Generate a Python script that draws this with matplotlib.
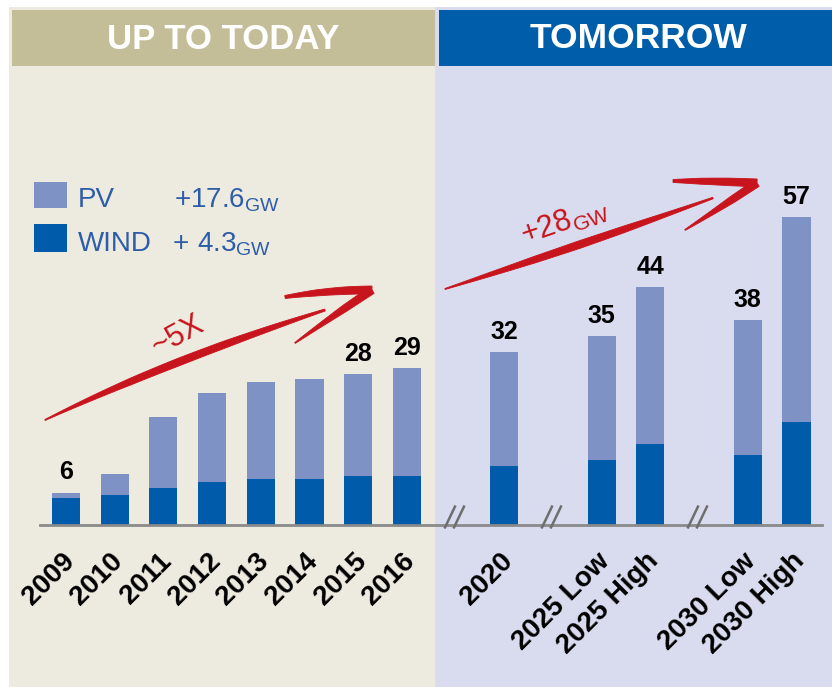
import numpy as np
import matplotlib
matplotlib.use("Agg")
import matplotlib.pyplot as plt
from matplotlib.patches import Rectangle, Polygon
from matplotlib.path import Path
from matplotlib.transforms import Affine2D

plt.rcParams['font.family'] = ['Liberation Sans', 'DejaVu Sans']
plt.rcParams['mathtext.fontset'] = 'custom'
plt.rcParams['mathtext.rm'] = 'Liberation Sans'
plt.rcParams['mathtext.it'] = 'Liberation Sans:italic'
plt.rcParams['mathtext.bf'] = 'Liberation Sans:bold'

# ---------------- data (GW installed) ----------------
history_labels = ["2009", "2010", "2011", "2012", "2013", "2014", "2015", "2016"]
history_total = [6, 9.5, 20, 24.5, 26.5, 27, 28, 29]
history_wind = [5, 5.5, 6.8, 7.9, 8.6, 8.6, 9, 9]
history_tags = ["6", "", "", "", "", "", "28", "29"]

outlook_labels = ["2020", "2025 Low", "2025 High", "2030 Low", "2030 High"]
outlook_total = [32, 35, 44, 38, 57]
outlook_wind = [11, 12, 15, 13, 19]
outlook_tags = ["32", "35", "44", "38", "57"]

pv_gain = "+17.6"
wind_gain = "4.3"
future_gain = "+28"
history_factor = "~5X"

# ---------------- layout ----------------
W, H = 832, 687
slot_px = 48.7          # pixels per category slot
first_px = 66           # centre of the first bar
base_px = 525           # baseline, pixels from top
unit_px = 5.4           # pixels per GW
bar_w = 0.575

history_slots = list(range(len(history_labels)))
outlook_slots = [9, 11, 12, 14, 15]
break_slots = [8, 10, 13]

pv_col = "#7F92C6"
wind_col = "#005BAA"
red = "#C8141C"
legend_txt = "#2D5DA8"

fig = plt.figure(figsize=(W / 100, H / 100), dpi=100)
fig.patch.set_facecolor("white")
pix = Affine2D().scale(1 / W, -1 / H).translate(0, 1) + fig.transFigure

# panels and headers
for (x0, w, fc) in [(9, 426, "#EDEBE0"), (435, 397, "#D9DCEE")]:
    fig.patches.append(Rectangle((x0, 7), w, H - 7, transform=pix, fc=fc, ec="none", zorder=-5))
fig.patches.append(Rectangle((12, 10), 423, 56, transform=pix, fc="#C4BE98", ec="none", zorder=-4))
fig.patches.append(Rectangle((439, 10), 393, 56, transform=pix, fc="#005DAA", ec="none", zorder=-4))
fig.text(223, 49, "UP TO TODAY", transform=pix, ha="center", va="baseline",
         fontsize=25, fontweight="bold", color="white")
fig.text(639, 48, "TOMORROW", transform=pix, ha="center", va="baseline",
         fontsize=25.5, fontweight="bold", color="white")

# ---------------- bars ----------------
ax = fig.add_axes([0, (H - base_px) / H, 1, base_px / H])
ax.patch.set_visible(False)
ax.set_xlim(-first_px / slot_px, (W - first_px) / slot_px)
ax.set_ylim(0, base_px / unit_px)

slots = history_slots + outlook_slots
labels = history_labels + outlook_labels
totals = np.array(history_total + outlook_total, float)
wind = np.array(history_wind + outlook_wind, float)
pv = totals - wind
tags = history_tags + outlook_tags

ax.bar(slots, wind, width=bar_w, color=wind_col, linewidth=0, zorder=2)
ax.bar(slots, pv, bottom=wind, width=bar_w, color=pv_col, linewidth=0, zorder=2)

for s, t, tag in zip(slots, totals, tags):
    if tag:
        ax.annotate(tag, (s, t), xytext=(0, 9.5), textcoords="offset points",
                    ha="center", va="baseline", fontsize=18, fontweight="bold",
                    color="black")

for sp in ["top", "left", "right"]:
    ax.spines[sp].set_visible(False)
ax.spines["bottom"].set_bounds(-0.53, 15.52)
ax.spines["bottom"].set_color("#8A8A8A")
ax.spines["bottom"].set_linewidth(2)
ax.set_yticks([])
ax.set_xticks([])

# slanted category labels under the baseline
for s, lab in zip(slots, labels):
    ax.annotate(lab, (s, 0), xytext=(-3.5, -16.5), textcoords="offset points",
                rotation=45, ha="right", va="top", rotation_mode="anchor",
                fontsize=20, fontweight="bold", color="black",
                annotation_clip=False)

# axis-break marks "//"
brk = Path([(-12, -3), (-1, 20), (-3, -3), (8, 20)],
           [Path.MOVETO, Path.LINETO, Path.MOVETO, Path.LINETO])
ax.plot(break_slots, [0] * len(break_slots), linestyle="none", marker=brk,
        markersize=28.8, markerfacecolor="none", markeredgecolor="#6E6E6E",
        markeredgewidth=1.8, clip_on=False, zorder=3)

# ---------------- legend ----------------
fig.patches.append(Rectangle((34, 182), 33, 26, transform=pix, fc=pv_col, ec="none"))
fig.patches.append(Rectangle((34, 224), 33, 28, transform=pix, fc=wind_col, ec="none"))
fig.text(78, 207, "PV", transform=pix, fontsize=20, color=legend_txt, va="baseline")
fig.text(78, 251, "WIND", transform=pix, fontsize=20, color=legend_txt, va="baseline")
fig.text(174, 207, pv_gain + r"$_{\mathrm{GW}}$", transform=pix, fontsize=20,
         color=legend_txt, va="baseline")
fig.text(173, 251, "+", transform=pix, fontsize=20, color=legend_txt, va="baseline")
fig.text(197, 251, wind_gain + r"$_{\mathrm{GW}}$", transform=pix, fontsize=20,
         color=legend_txt, va="baseline")


# ---------------- hand-drawn arrows ----------------
def brush(p0, c, p2, widths):
    t = np.linspace(0, 1, 80)[:, None]
    p0, c, p2 = (np.array(v, float) for v in (p0, c, p2))
    pts = (1 - t) ** 2 * p0 + 2 * (1 - t) * t * c + t ** 2 * p2
    d = np.gradient(pts, axis=0)
    n = np.stack([-d[:, 1], d[:, 0]], axis=1)
    n /= np.linalg.norm(n, axis=1)[:, None]
    tt = t[:, 0]
    w = np.interp(tt, np.linspace(0, 1, len(widths)), widths)[:, None]
    poly = np.vstack([pts + n * w / 2, (pts - n * w / 2)[::-1]])
    fig.patches.append(Polygon(poly, closed=True, transform=pix, fc=red,
                               ec=red, lw=0.6, zorder=6))


# growth arrow up to today
brush((45, 420), (170, 360), (325, 310), [1.0, 4, 6.5, 7.5, 7, 5, 2])
brush((285, 297), (330, 290), (372, 290), [3, 6, 7.5, 8])
brush((372, 290), (330, 318), (295, 343), [8, 7, 4, 1])
fig.text(178, 336, history_factor, transform=pix, rotation=29, ha="center",
         va="center", fontsize=22, color=red, rotation_mode="anchor")

# growth arrow tomorrow
brush((445, 289), (579, 246), (713, 198), [1.0, 4, 6.5, 7.5, 6.5, 4, 1.5])
brush((673, 181), (715, 181), (757, 183), [3, 6, 7.5, 8])
brush((757, 183), (720, 208), (685, 230), [8, 7, 4, 1])
fig.text(565, 223, future_gain + r"$_{\mathrm{GW}}$", transform=pix, rotation=19,
         ha="center", va="center", fontsize=22, color=red, rotation_mode="anchor")

fig.savefig("out.png", dpi=100)
